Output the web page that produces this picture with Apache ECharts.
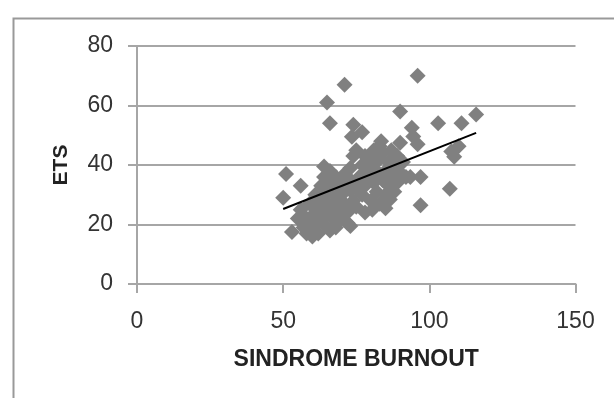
<!DOCTYPE html>
<html>
<head>
<meta charset="utf-8">
<script src="https://cdn.jsdelivr.net/npm/echarts@6/dist/echarts.min.js"></script>
<style>
html,body{margin:0;padding:0;background:#fff;}
#chart{width:614px;height:398px;}
</style>
</head>
<body>
<div id="chart"></div>
<script>
// Data
const burnout = [96,71,65,66,90,103,111,116,94,74,77,73.5,96,90,83.5,110,107.5,108.5,51,56,50,107,97,97,93.5,91,53,60,73,78,85,64,74,80.5,83,94.5,75,80.5,86.5,72,72.8,
  55,57,56,58,58,59,60,61,62,62,63,63,64,64,65,65,66,66,66,67,67,68,68,68,69,69,70,70,71,71,72,73,73,74,75,75,76,77,77,78,78,79,80,80,81,81,82,82,83,83,84,84,85,85,86,86,87,87,88,88,89,90,91,92,89,
  60,62,61,64,67,70];
const ets = [70,67,61,54,58,54,54,57,52.5,53.5,51,49.5,47,47.5,48,46.3,44.5,42.8,37,33,29,32,26.5,36,36,36.5,17.5,16,19.5,24,25.5,39.5,43,43,46.3,49.6,26,25,28.4,20.5,31.7,
  22,19,25,17,22,27,20,30,17,24,33,28,20,36,25,30,18,34,38,22,27,31,36,19,25,29,34,22,37,27,24,35,39,28,32,45,36,40,30,33,43,37,28,41,34,45,31,38,42,27,35,44,30,38,41,33,36,45,31,39,34,37,41,36,43,
  23,21,26,23,32,30];
const trendX = [50, 116];
const trendY = [25.2, 50.8];
const xTicks = [0, 50, 100, 150];
const yTicks = [0, 20, 40, 60, 80];

const points = burnout.map((x, i) => [x, ets[i]]);
const trend = trendX.map((x, i) => [x, trendY[i]]);

const chart = echarts.init(document.getElementById('chart'), null, {renderer: 'canvas'});
const font = 'Liberation Sans, Arial, sans-serif';
chart.setOption({
  animation: false,
  backgroundColor: '#ffffff',
  graphic: [{
    type: 'rect', left: 11, top: 16, z: -10,
    shape: {x: 0, y: 0, width: 720, height: 520},
    style: {fill: 'none', stroke: '#999999', lineWidth: 2}
  }],
  grid: {left: 137, right: 38.5, top: 46, bottom: 114, containLabel: false},
  xAxis: {
    type: 'value', min: xTicks[0], max: xTicks[xTicks.length - 1], interval: 50,
    name: 'SINDROME BURNOUT', nameLocation: 'middle', nameGap: 64,
    nameTextStyle: {fontFamily: font, fontWeight: 'bold', fontSize: 23, color: '#222'},
    axisLine: {show: true, lineStyle: {color: '#a6a6a6', width: 2}},
    axisTick: {show: true, inside: false, length: 9, lineStyle: {color: '#a6a6a6', width: 2}},
    axisLabel: {margin: 26, fontFamily: font, fontSize: 23, color: '#333'},
    splitLine: {show: false}
  },
  yAxis: {
    type: 'value', min: yTicks[0], max: yTicks[yTicks.length - 1], interval: 20,
    name: 'ETS', nameLocation: 'middle', nameGap: 65, nameRotate: 90,
    nameTextStyle: {fontFamily: font, fontWeight: 'bold', fontSize: 21, color: '#222'},
    axisLine: {show: true, lineStyle: {color: '#a6a6a6', width: 2}},
    axisTick: {show: true, inside: false, length: 9, lineStyle: {color: '#a6a6a6', width: 2}},
    axisLabel: {margin: 24, fontFamily: font, fontSize: 23, color: '#333'},
    splitLine: {show: true, lineStyle: {color: '#a6a6a6', width: 2}}
  },
  series: [{
    type: 'scatter', data: points, symbol: 'diamond', symbolSize: 16,
    itemStyle: {color: '#808080', opacity: 1}, z: 2
  }, {
    type: 'line', data: trend, symbol: 'none', z: 3,
    lineStyle: {color: '#000000', width: 2}
  }]
});
</script>
</body>
</html>
